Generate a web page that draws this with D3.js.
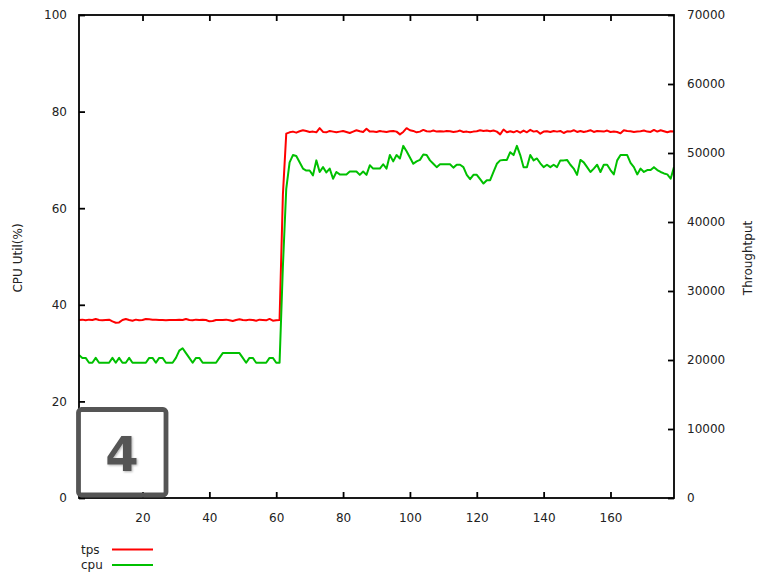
<!DOCTYPE html>
<html><head><meta charset="utf-8">
<script src="https://cdn.jsdelivr.net/npm/d3@7"></script>
<style>
html,body{margin:0;padding:0;background:#fff;}
svg{display:block;font-family:"DejaVu Sans",sans-serif;}
</style></head>
<body><svg id="chart" width="758" height="573"></svg>
<script>
// ---- data ----
const xDomain = [1, 179];
const xTicks = [20, 40, 60, 80, 100, 120, 140, 160];
const yTicks = [0, 20, 40, 60, 80, 100];
const y2Ticks = [0, 10000, 20000, 30000, 40000, 50000, 60000, 70000];
const seriesNames = ["tps", "cpu"];
const seriesColors = ["#ff0000", "#00c000"];

const tps = [
 25800,25850,25750,25850,25800,25950,25800,25750,25800,25850,
 25600,25400,25450,25800,25950,25800,25700,25850,25750,25800,
 25950,25900,25850,25850,25800,25800,25750,25800,25800,25800,
 25850,25800,25950,25800,25750,25850,25800,25850,25800,25600,
 25650,25800,25800,25800,25850,25750,25650,25800,25900,25800,
 25750,25850,25800,25700,25850,25800,25750,25950,25700,25750,
 25800,
 44000,52800,
 53000,53100,52950,53150,53300,53200,53050,
 53100,53000,53600,53050,53000,53200,53100,53000,53100,53200,
 53050,52900,53100,53300,53150,53050,53500,53100,53100,53050,
 53200,53100,53050,53150,53200,53100,52700,53050,53600,53300,
 53200,53000,53100,53350,53150,53100,53250,53100,53150,53100,
 53200,53150,53050,53100,53250,53050,53100,53000,53100,53150,
 53300,53200,53250,53150,53250,53100,52700,53400,53000,53150,
 53000,53200,52950,53250,53000,53350,53100,53200,52800,53100,
 53150,53050,53200,53100,53200,52900,53150,53100,53300,53050,
 53200,53050,53150,53300,53050,53200,53150,53100,53250,53050,
 53100,53050,52850,53300,53200,53150,53050,53100,53150,53250,
 53100,53050,53350,53100,53300,53150,53000,53150,53100
];

const cpu = [
 29.6,29,29,28,28,29,28,28,28,28,
 29,28,29,28,28,29,28,28,28,28,
 28,29,29,28,29,29,28,28,28,29,
 30.5,31,30,29,28,29,29,28,28,28,
 28,28,29,30,30,30,30,30,30,29,
 28,29,29,28,28,28,28,29,29,28,
 28,
 48,64,
 69.5,71,70.8,69.5,68.2,67.8,67.8,
 66.8,69.9,67.5,68.5,67.4,68.2,66.1,67.5,67,67,
 67,67.6,67.6,67.6,66.9,67.6,66.9,68.9,68.2,68.2,
 68.2,69.1,68.2,71,69.7,71,70.3,72.9,71.8,70.5,
 69.2,69.7,70,71.1,71,69.9,69.2,68.5,69.1,69.1,
 69.1,69.1,68.4,69,69,68.5,66.9,66,66.9,66.9,
 66,65.1,65.8,65.8,67.5,69.2,69.9,70,70,71.6,
 71,72.9,71,68.5,68.5,71,69.9,70.3,69.3,68.5,
 69,68.5,69,68.5,69.9,69.9,70,69,68.2,66.9,
 70,69.5,68.5,67.5,68.2,69,67.5,69,69,67.9,
 67,69.9,71,71,71,69.4,68.5,67,68.2,67.5,
 67.9,67.9,68.5,67.9,67.5,67.2,67,66.1,68.5
];

// ---- layout ----
const svg = d3.select("#chart");
const L = 79, R = 674, T = 15, B = 498;
const x = d3.scaleLinear().domain(xDomain).range([L, R]);
const y = d3.scaleLinear().domain([0, 100]).range([B, T]);
const y2 = d3.scaleLinear().domain([0, 70000]).range([B, T]);
const tickLen = 6;
const fs = 12;

svg.append("rect").attr("width", 758).attr("height", 573).attr("fill", "#fff");

// data lines
const clip = svg.append("clipPath").attr("id", "clip").append("rect")
  .attr("x", L).attr("y", T).attr("width", R - L).attr("height", B - T);
const g = svg.append("g").attr("clip-path", "url(#clip)");
const lineTps = d3.line().x((d, i) => x(i + 1)).y(d => y2(d));
const lineCpu = d3.line().x((d, i) => x(i + 1)).y(d => y(d));
g.append("path").datum(tps).attr("d", lineTps).attr("fill", "none")
  .attr("stroke", seriesColors[0]).attr("stroke-width", 2).attr("stroke-linejoin", "round");
g.append("path").datum(cpu).attr("d", lineCpu).attr("fill", "none")
  .attr("stroke", seriesColors[1]).attr("stroke-width", 2).attr("stroke-linejoin", "round");

// axes (gnuplot style, inward ticks)
const axB = d3.axisBottom(x).tickValues(xTicks).tickSizeInner(-tickLen).tickSizeOuter(0).tickPadding(15).tickFormat(d3.format("d"));
const axT = d3.axisTop(x).tickValues(xTicks).tickSizeInner(-tickLen).tickSizeOuter(0).tickFormat("");
const axL = d3.axisLeft(y).tickValues(yTicks).tickSizeInner(-tickLen).tickSizeOuter(0).tickPadding(12).tickFormat(d3.format("d"));
const axR = d3.axisRight(y2).tickValues(y2Ticks).tickSizeInner(-tickLen).tickSizeOuter(0).tickPadding(13).tickFormat(d3.format("d"));

function style(sel) {
  sel.selectAll(".domain").remove();
  sel.selectAll(".tick line").attr("stroke", "#000").attr("stroke-width", 1.8);
  sel.selectAll(".tick text").attr("fill", "#222").style("font-size", fs + "px").style("font-family", "DejaVu Sans");
}
svg.append("g").attr("transform", `translate(0,${B})`).call(axB).call(style);
svg.append("g").attr("transform", `translate(0,${T})`).call(axT).call(style);
svg.append("g").attr("transform", `translate(${L},0)`).call(axL).call(style);
svg.append("g").attr("transform", `translate(${R},0)`).call(axR).call(style);

// frame
svg.append("rect").attr("x", L).attr("y", T).attr("width", R - L).attr("height", B - T)
  .attr("fill", "none").attr("stroke", "#000").attr("stroke-width", 1.8);

// axis titles
svg.append("text").attr("transform", "translate(22,258) rotate(-90)")
  .attr("text-anchor", "middle").style("font-size", fs + "px").attr("fill", "#222").text("CPU Util(%)");
svg.append("text").attr("transform", "translate(752,258) rotate(-90)")
  .attr("text-anchor", "middle").style("font-size", fs + "px").attr("fill", "#222").text("Throughtput");

// legend
const legY = [549.5, 565];
seriesNames.forEach((n, i) => {
  svg.append("text").attr("x", 81).attr("y", legY[i]).attr("dy", "0.35em")
    .style("font-size", fs + "px").attr("fill", "#222").text(n);
  svg.append("line").attr("x1", 112).attr("x2", 153).attr("y1", legY[i]).attr("y2", legY[i])
    .attr("stroke", seriesColors[i]).attr("stroke-width", 2);
});

// "4" badge
const defs = svg.append("defs");
const f = defs.append("filter").attr("id", "sh").attr("x", "-20%").attr("y", "-20%").attr("width", "150%").attr("height", "150%");
f.append("feDropShadow").attr("dx", 1).attr("dy", 1).attr("stdDeviation", 1).attr("flood-color", "#000").attr("flood-opacity", 0.3);
svg.append("rect").attr("x", 78.5).attr("y", 409.5).attr("width", 87.5).attr("height", 85.5)
  .attr("rx", 3).attr("fill", "none").attr("stroke", "#555").attr("stroke-width", 4.8);
svg.append("text").attr("x", 122).attr("y", 471).attr("text-anchor", "middle")
  .style("font-size", "48px").style("font-weight", "bold").attr("fill", "#555")
  .attr("filter", "url(#sh)").text("4");
</script></body></html>
